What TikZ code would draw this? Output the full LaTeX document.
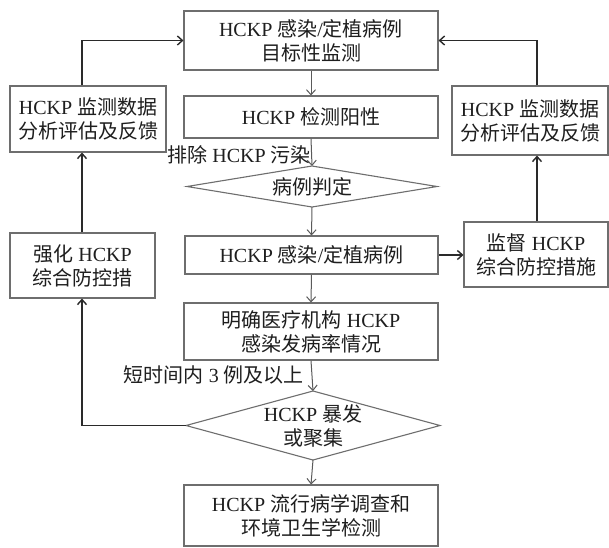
\documentclass[tikz,border=0pt]{standalone}
\usepackage{fontspec}
\setmainfont{Liberation Serif}
\newfontfamily\cjk{Noto Sans CJK SC}
\usetikzlibrary{shapes.geometric,arrows.meta}
\newcommand\zh[1]{{\cjk #1}}
\definecolor{boxgray}{HTML}{6E6E6E}
\definecolor{textgray}{HTML}{1E1E1E}
\definecolor{lingray}{HTML}{5A5A5A}
\definecolor{loopdark}{HTML}{2A2A2A}
\begin{document}
\begin{tikzpicture}[x=1pt,y=-1pt,
  txt/.style={font=\fontsize{20}{24}\selectfont, text=textgray, align=center, inner sep=0pt},
  box/.style={txt, draw=boxgray, line width=1.1pt},
  dia/.style={diamond, draw=boxgray, line width=1.1pt, inner sep=0pt, outer sep=0pt},
  arr/.style={draw=lingray, line width=1pt, -{Straight Barb[length=5pt,width=9pt]}},
  loop/.style={draw=loopdark, line width=1.4pt, -{Straight Barb[length=5pt,width=9pt]}},
  plain/.style={draw=loopdark, line width=1.4pt}]
\fill[white] (0,0) rectangle (609,547);
\useasboundingbox (0,0) rectangle (609,547);

% central column
\node[box, minimum width=254pt, minimum height=59pt] (T) at (311,40.5)
  {HCKP \zh{感染}/\zh{定植病例}\\\zh{目标性监测}};
\node[box, minimum width=254pt, minimum height=42pt] (P) at (311,117)
  {HCKP \zh{检测阳性}};
\node[dia, minimum width=250pt, minimum height=41pt] (D1) at (312,186.5) {};
\node[txt] (D1t) at (D1.center) {\zh{病例判定}};
\node[box, minimum width=253pt, minimum height=38pt] (C) at (311.5,255)
  {HCKP \zh{感染}/\zh{定植病例}};
\node[box, minimum width=254pt, minimum height=57pt] (M) at (311,331.5)
  {\zh{明确医疗机构} HCKP\\\zh{感染发病率情况}};
\node[dia, minimum width=254pt, minimum height=69pt] (D2) at (313,425.5) {};
\node[txt] (D2t) at (D2.center) {HCKP \zh{暴发}\\\zh{或聚集}};
\node[box, minimum width=254pt, minimum height=61pt] (B) at (311,515.5)
  {HCKP \zh{流行病学调查和}\\\zh{环境卫生学检测}};

% side boxes
\node[box, minimum width=156pt, minimum height=66pt] (LT) at (88,119)
  {HCKP \zh{监测数据}\\\zh{分析评估及反馈}};
\node[box, minimum width=145pt, minimum height=65pt] (LB) at (82.5,265.5)
  {\zh{强化} HCKP\\\zh{综合防控措}};
\node[box, minimum width=156pt, minimum height=69pt] (RT) at (530,120.5)
  {HCKP \zh{监测数据}\\\zh{分析评估及反馈}};
\node[box, minimum width=144pt, minimum height=65pt] (RB) at (536,254.5)
  {\zh{监督} HCKP\\\zh{综合防控措施}};

% edge labels
\node[txt, anchor=east] (L1) at (311,155) {\zh{排除} HCKP \zh{污染}};
\node[txt, anchor=east] (L2) at (304,375) {\zh{短时间内} 3 \zh{例及以上}};

\coordinate (lx) at (82,41);
\coordinate (rx) at (537,41);

% central arrows
\draw[arr] (T.south) -- (P.north);
\draw[arr] (P.south) -- (D1.north);
\draw[arr] (D1.south) -- (C.north);
\draw[arr] (C.south) -- (M.north);
\draw[arr] (M.south) -- (D2.north);
\draw[arr] (D2.south) -- (B.north);

% loops
\draw[loop] (LT.north -| lx) |- (T.west);
\draw[loop] (LB.north -| lx) -- (LT.south -| lx);
\draw[loop] (D2.west) -| (LB.south -| lx);
\draw[loop] (C.east) -- (RB.west |- C.east);
\draw[loop] (RB.north -| rx) -- (RT.south -| rx);
\draw[loop] (RT.north -| rx) |- (T.east);
\end{tikzpicture}
\end{document}
